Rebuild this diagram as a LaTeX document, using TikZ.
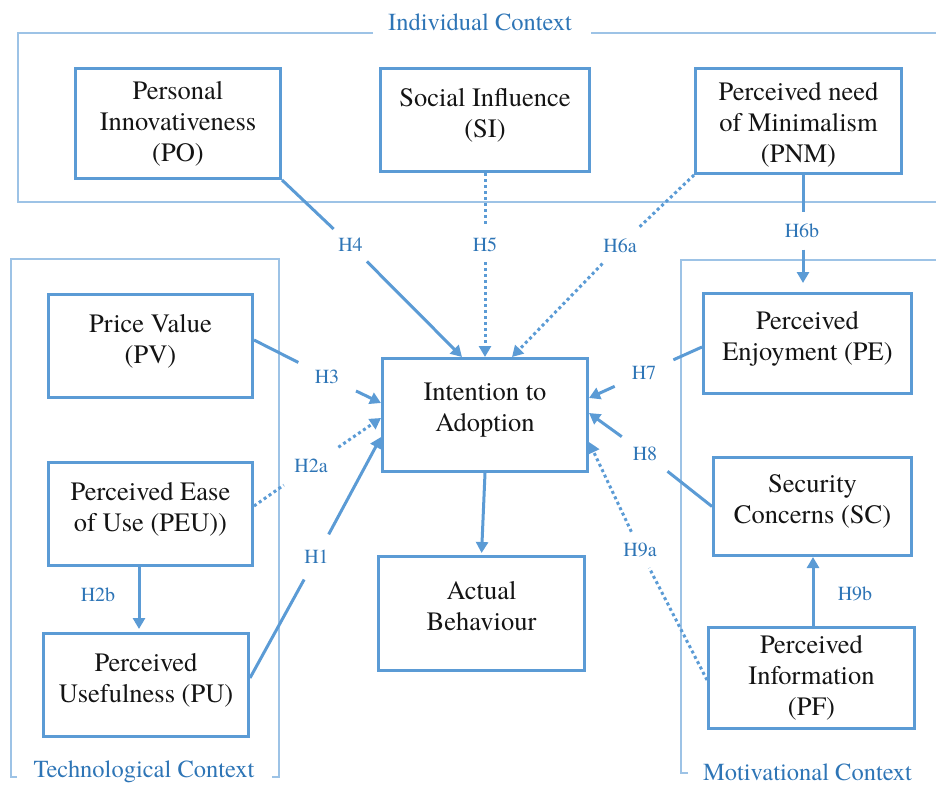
\documentclass[tikz,border=0pt]{standalone}
\usepackage{fontspec}
\setmainfont{texgyretermes}[Extension=.otf, UprightFont=*-regular, BoldFont=*-bold, ItalicFont=*-italic, BoldItalicFont=*-bolditalic]
\usetikzlibrary{arrows.meta}
\definecolor{boxblue}{RGB}{91,155,213}
\definecolor{labblue}{RGB}{46,117,182}
\definecolor{ctxblue}{RGB}{157,195,230}
\definecolor{ink}{RGB}{20,20,20}
% invisible strut that lifts two-line box texts a little above centre
\newcommand\boxlift{\rule[-15pt]{0pt}{15pt}}
% invisible strut that lowers three-line box texts slightly
\newcommand\boxdrop{\rule{0pt}{26pt}}

\begin{document}
\begin{tikzpicture}[x=1pt,y=-1pt,
  box/.style={draw=boxblue, line width=3pt, fill=white, text=ink, align=center,
              font=\fontsize{26.5}{31}\selectfont, inner sep=0pt},
  ctx/.style={draw=ctxblue, line width=1.4pt},
  ctxtitle/.style={text=labblue, font=\fontsize{24.5}{28}\selectfont, inner sep=0pt, anchor=base},
  hyp/.style={circle, inner sep=0pt, text=labblue, font=\fontsize{20}{23}\selectfont},
  hyplab/.style={text=labblue, font=\fontsize{20}{23}\selectfont, inner sep=0pt},
  link/.style={draw=boxblue, line width=3pt},
  weak/.style={link, line width=3pt, dash pattern=on 3pt off 3pt},
  tip/.style={-{Triangle[length=11pt,width=12pt]}}
]
\useasboundingbox (0,0) rectangle (936,784);

% context frames
\draw[ctx] (373,33) -- (18,33) -- (18,202) -- (936,202);
\draw[ctx] (591,33) -- (936,33);
\node[ctxtitle] (indctx) at (480,31) {Individual Context};
\draw[ctx] (17,777) -- (11,777) -- (11,259) -- (279,259) -- (279,777) -- (272,777);
\node[ctxtitle] (techctx) at (144,777) {Technological Context};
\draw[ctx] (688,773) -- (681,773) -- (681,260) -- (936,260);
\node[ctxtitle] (motctx) at (807.5,780) {Motivational Context};

% constructs
\node[box, minimum width=205pt, minimum height=110pt] (PO) at (178,123.5) {Personal\\Innovativeness\\(PO)};
\node[box, minimum width=209pt, minimum height=103pt] (SI) at (485,120) {Social Influence\\(SI)\boxlift};
\node[box, minimum width=206pt, minimum height=105pt] (PNM) at (798.5,121) {\boxdrop Perceived need\\of Minimalism\\(PNM)};
\node[box, minimum width=204pt, minimum height=103pt] (PV) at (150.5,346) {Price Value\\(PV)\boxlift};
\node[box, minimum width=204pt, minimum height=103pt] (PEU) at (150.5,514) {Perceived Ease\\of Use (PEU))\boxlift};
\node[box, minimum width=205pt, minimum height=103pt] (PU) at (146,685) {Perceived\\Usefulness (PU)\boxlift};
\node[box, minimum width=205pt, minimum height=113pt] (IA) at (485,415) {Intention to\\Adoption\boxlift};
\node[box, minimum width=206pt, minimum height=114pt] (AB) at (481.5,613.5) {Actual\\Behaviour\boxlift};
\node[box, minimum width=208pt, minimum height=100pt] (PE) at (807.5,343.5) {Perceived\\Enjoyment (PE)\boxlift};
\node[box, minimum width=198pt, minimum height=98pt] (SC) at (812.5,506.5) {Security\\Concerns (SC)\boxlift};
\node[box, minimum width=206pt, minimum height=101pt] (PF) at (811.5,678) {Perceived\\Information\\(PF)};

% hypothesis labels that interrupt their paths
\node[hyp, minimum size=46pt] (h4) at (350.5,245) {H4};
\node[hyp, minimum size=35pt] (h5) at (485,244.5) {H5};
\node[hyp, minimum size=50pt] (h6a) at (620,245.5) {H6a};
\node[hyp, minimum size=36pt] (h6b) at (802,231) {H6b};
\node[hyp, minimum size=64pt] (h3) at (327,377) {H3};
\node[hyp, minimum size=66pt] (h2a) at (311,466) {H2a};
\node[hyp, minimum size=51pt] (h1) at (316.5,557) {H1};
\node[hyp, minimum size=64pt] (h7) at (644,373) {H7};
\node[hyp, minimum size=57pt] (h8) at (645,453.5) {H8};
\node[hyp, minimum size=40pt] (h9a) at (640,550) {H9a};

% hypothesis labels beside their paths
\node[hyplab] (h2b) at (98,595) {H2b};
\node[hyplab] (h9b) at (855,594) {H9b};

% individual context paths
\draw[link] (PO.south east) -- (h4);
\draw[link,tip] (h4) -- ([xshift=-23pt]IA.north);
\draw[weak] (SI.south) -- (h5);
\draw[weak,tip] (h5) -- (IA.north);
\draw[weak] (PNM.south west) -- (h6a);
\draw[weak,tip] (h6a) -- ([xshift=27pt]IA.north);
\draw[link] ([xshift=4.5pt]PNM.south) -- ([xshift=1pt]h6b.north);
\draw[link,tip,shorten >=9pt] ([xshift=1pt]h6b.south) -- ([xshift=-4.5pt]PE.north);

% technological context paths
\draw[link] ([yshift=6pt]PV.east) -- (h3);
\draw[link,tip] (h3) -- ([yshift=12pt]IA.west);
\draw[weak] ([yshift=8pt]PEU.east) -- (h2a);
\draw[weak,tip] (h2a) -- ([yshift=-3pt]IA.west);
\draw[link] ([yshift=7pt]PU.east) -- (h1);
\draw[link,tip] (h1) -- ([yshift=-22pt]IA.west);
\draw[link,tip,shorten >=3pt] ([xshift=-11.5pt]PEU.south) -- ([xshift=-7pt]PU.north);

% motivational context paths
\draw[link] ([yshift=-3.5pt]PE.west) -- (h7);
\draw[link,tip] (h7) -- ([yshift=17pt]IA.east);
\draw[link] (SC.west) -- (h8);
\draw[link,tip] (h8) -- ([yshift=2pt]IA.east);
\draw[weak] ([yshift=-2pt]PF.west) -- (h9a);
\draw[weak,tip] (h9a) -- ([yshift=-27pt]IA.east);
\draw[link,tip] ([xshift=1.5pt]PF.north) -- ([xshift=0.5pt]SC.south);

% intention to behaviour
\draw[link,tip,shorten >=2pt] (IA.south) -- (AB.north);
\end{tikzpicture}
\end{document}
